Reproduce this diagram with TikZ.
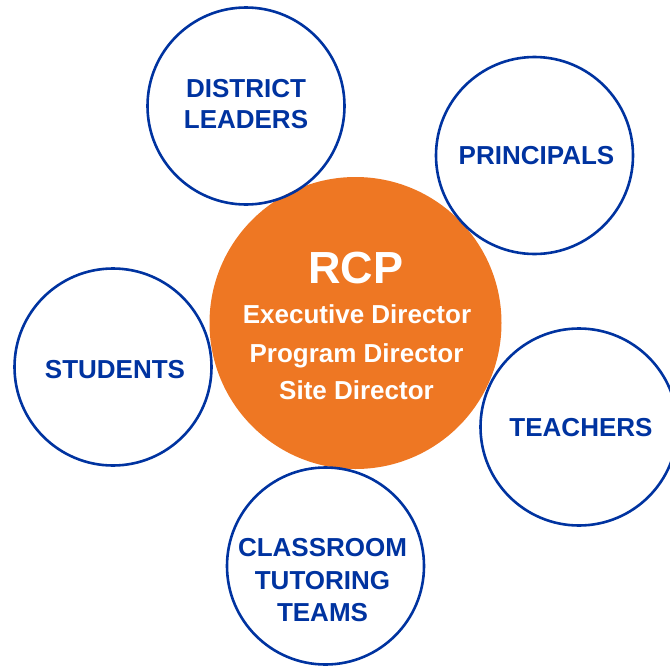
\documentclass[tikz,border=0pt]{standalone}
\usepackage{fontspec}
\setmainfont{Liberation Sans}
\definecolor{rcpblue}{RGB}{0,51,160}
\definecolor{rcporange}{RGB}{238,119,35}
\begin{document}
\begin{tikzpicture}[x=1pt,y=-1pt,
  ring/.style={circle, draw=rcpblue, line width=2.6pt, inner sep=0pt, minimum size=197pt},
  ringtext/.style={text=rcpblue, align=center, inner sep=0pt, font=\fontsize{26}{31}\bfseries},
  core/.style={circle, fill=rcporange, inner sep=0pt, minimum size=292pt},
  coretext/.style={text=white, inner sep=0pt, anchor=base, font=\fontsize{26}{31}\bfseries}]
\useasboundingbox (0,0) rectangle (670,667);
\node[core] (rcp) at (355.5,323) {};
\node[ring] (district) at (246,106) {};
\node[ring] (principals) at (534.5,155.5) {};
\node[ring] (students) at (113,367) {};
\node[ring] (teachers) at (579,427) {};
\node[ring] (classroom) at (325.5,566) {};
\node[ringtext] (districtlbl) at (246,104.5) {DISTRICT\\LEADERS};
\node[ringtext] (principalslbl) at (536.5,156) {PRINCIPALS};
\node[ringtext] (studentslbl) at (115,369.5) {STUDENTS};
\node[ringtext] (teacherslbl) at (581,428) {TEACHERS};
\node[ringtext, font=\fontsize{26}{32.5}\bfseries] (classroomlbl) at (322.5,580.5) {CLASSROOM\\TUTORING\\TEAMS};
\node[coretext, font=\fontsize{45}{54}\bfseries] (rcptitle) at (356,283) {RCP};
\node[coretext] (exec) at (357,323) {Executive Director};
\node[coretext] (prog) at (356.5,362) {Program Director};
\node[coretext] (site) at (356.5,399) {Site Director};
\end{tikzpicture}
\end{document}
